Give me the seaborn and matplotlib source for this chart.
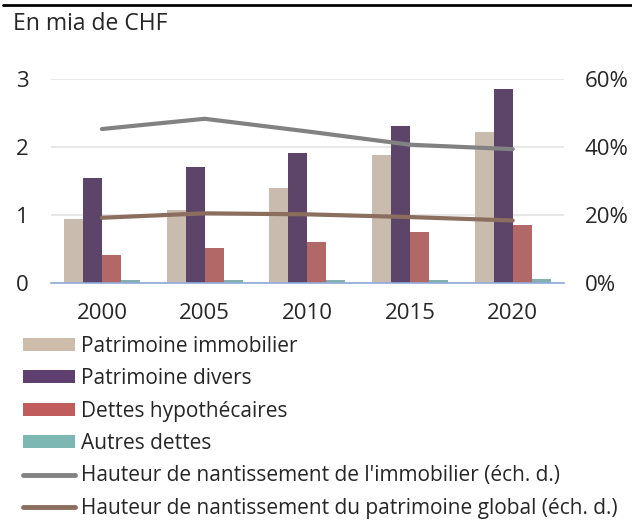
import matplotlib
matplotlib.use("Agg")
import matplotlib.pyplot as plt
from matplotlib.patches import Patch
from matplotlib.lines import Line2D
import seaborn as sns
import pandas as pd
import numpy as np

years = ["2000", "2005", "2010", "2015", "2020"]
immobilier = [0.94, 1.07, 1.39, 1.88, 2.21]
divers = [1.54, 1.71, 1.91, 2.30, 2.84]
dettes_hyp = [0.42, 0.51, 0.61, 0.755, 0.86]
autres_dettes = [0.045, 0.05, 0.045, 0.05, 0.06]
nant_immo = [45.2, 48.2, 44.5, 40.6, 39.3]
nant_global = [19.2, 20.5, 20.2, 19.4, 18.4]

series = ["Patrimoine immobilier", "Patrimoine divers", "Dettes hypothécaires", "Autres dettes"]
colors = ["#cdbcaa", "#5f3f70", "#c05c5b", "#7db7b4"]
line_labels = ["Hauteur de nantissement de l'immobilier (éch. d.)",
               "Hauteur de nantissement du patrimoine global (éch. d.)"]
line_colors = ["#828282", "#8b6e5e"]

df = pd.DataFrame({
    "year": years * 4,
    "val": immobilier + divers + dettes_hyp + autres_dettes,
    "serie": sum([[s] * len(years) for s in series], []),
})

sns.set_style("white")
plt.rcParams["font.family"] = ["Open Sans", "DejaVu Sans"]

fig = plt.figure(figsize=(6.32, 5.22), dpi=100)
ax = fig.add_axes([0.080, 0.4573, 0.8125, 0.3923])

sns.barplot(data=df, x="year", y="val", hue="serie", palette=colors,
            width=0.74, linewidth=0, ax=ax, legend=False)
ax.set_ylim(0, 3)
ax.set_xlim(-0.5, 4.5)
ax.set_yticks([0, 1, 2, 3])
ax.yaxis.grid(True, color="#e3e3e3", linewidth=1.2)
ax.set_axisbelow(True)
ax.set_xlabel("")
ax.set_ylabel("")
for s in ["top", "right", "left"]:
    ax.spines[s].set_visible(False)
ax.spines["bottom"].set_color("#8eaadb")
ax.spines["bottom"].set_linewidth(1.2)
ax.set_xticks(np.arange(-0.5, 5, 1), minor=True)
ax.tick_params(axis="x", which="minor", length=6, color="#8eaadb", width=1.2, direction="out")
ax.tick_params(axis="x", which="major", length=0, labelsize=16, pad=14)
ax.tick_params(axis="y", length=0, labelsize=16, pad=16)

ax2 = ax.twinx()
xs = np.arange(len(years))
sns.lineplot(x=xs, y=nant_immo, color=line_colors[0], linewidth=3, ax=ax2)
sns.lineplot(x=xs, y=nant_global, color=line_colors[1], linewidth=3, ax=ax2)
ax2.set_ylim(0, 60)
ax2.set_yticks([0, 20, 40, 60])
ax2.set_yticklabels(["0%", "20%", "40%", "60%"])
ax2.tick_params(axis="y", length=0, labelsize=16, pad=15)
for s in ["top", "right", "left", "bottom"]:
    ax2.spines[s].set_visible(False)
ax.set_xlim(-0.5, 4.5)

fig.add_artist(Line2D([0.005, 1], [0.9895, 0.9895], color="black", linewidth=2,
                      transform=fig.transFigure))
fig.text(0.020, 0.954, "En mia de CHF", fontsize=16.5, va="center", ha="left")

handles = [Patch(facecolor=c, edgecolor="none") for c in colors]
handles += [Line2D([0], [0], color=c, linewidth=3.5) for c in line_colors]
fig.legend(handles, series + line_labels, loc="upper left",
           bbox_to_anchor=(0.036, 0.357), frameon=False, fontsize=15,
           handlelength=2.5, handleheight=0.6, handletextpad=0.29,
           labelspacing=0.55, borderaxespad=0, borderpad=0)

fig.savefig("out.png", dpi=100)
